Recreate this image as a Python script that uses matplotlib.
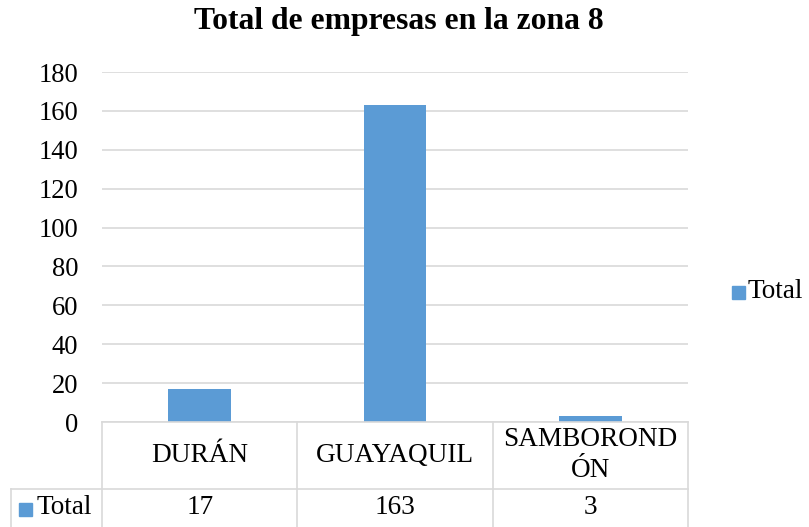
import matplotlib
matplotlib.use("Agg")
import matplotlib.pyplot as plt
from matplotlib.lines import Line2D
from matplotlib.patches import Rectangle

categories = ["DURÁN", "GUAYAQUIL", "SAMBORONDÓN"]
values = [17, 163, 3]
series_name = "Total"
title = "Total de empresas en la zona 8"
yticks = [0, 20, 40, 60, 80, 100, 120, 140, 160, 180]

W, H = 809, 527
BAR = "#5B9BD5"
GRID = "#D9D9D9"
FONT = "Liberation Serif"
FS = 19.6

fig = plt.figure(figsize=(W / 100, H / 100), dpi=100)

def fx(px):
    return px / W

def fy(py):
    return 1 - py / H

L, R, T, B = 102, 688, 72, 422
ax = fig.add_axes([fx(L), fy(B), fx(R - L), (B - T) / H])
x = list(range(len(categories)))
ax.bar(x, values, width=0.32, color=BAR, zorder=3)
ax.set_xlim(-0.5, len(categories) - 0.5)
ax.set_ylim(0, 180)
ax.set_yticks(yticks)
ax.set_yticklabels([str(v) for v in yticks], fontfamily=FONT, fontsize=FS - 0.4)
ax.tick_params(axis="y", length=0, pad=17)
ax.set_xticks([])
for s in ax.spines.values():
    s.set_visible(False)
ax.yaxis.grid(True, color=GRID, linewidth=1.2, zorder=0)
ax.set_axisbelow(True)

fig.text(fx(399), fy(22), title, ha="center", va="center",
         fontfamily=FONT, fontsize=22.8, fontweight="bold")

# data table
lw = 1.2
col_edges = [L + (R - L) * i / len(categories) for i in range(len(categories) + 1)]
row1_bot = 489
bottom = 530
def line(x0, y0, x1, y1):
    fig.add_artist(Line2D([fx(x0), fx(x1)], [fy(y0), fy(y1)], color=GRID, lw=lw,
                          transform=fig.transFigure))
line(L, B, R, B)
line(11, row1_bot, R, row1_bot)
for cx in col_edges:
    line(cx, B, cx, bottom)
line(11, row1_bot, 11, bottom)

def wrap(s, n=9):
    return s if len(s) <= n else s[:n] + "\n" + s[n:]

for i, (c, v) in enumerate(zip(categories, values)):
    cx = 0.5 * (col_edges[i] + col_edges[i + 1])
    fig.text(fx(cx), fy(455), wrap(c), ha="center", va="center",
             fontfamily=FONT, fontsize=FS, linespacing=1.35)
    fig.text(fx(cx), fy(507), str(v), ha="center", va="center",
             fontfamily=FONT, fontsize=FS)

fig.add_artist(Rectangle((fx(19), fy(516)), fx(13), 13 / H, color=BAR,
                         transform=fig.transFigure))
fig.text(fx(37), fy(507), series_name, ha="left", va="center",
         fontfamily=FONT, fontsize=FS)

# legend
fig.add_artist(Rectangle((fx(732), fy(299)), fx(13), 13 / H, color=BAR,
                         transform=fig.transFigure))
fig.text(fx(748), fy(292), series_name, ha="left", va="center",
         fontfamily=FONT, fontsize=FS)

fig.savefig("out.png", dpi=100)
